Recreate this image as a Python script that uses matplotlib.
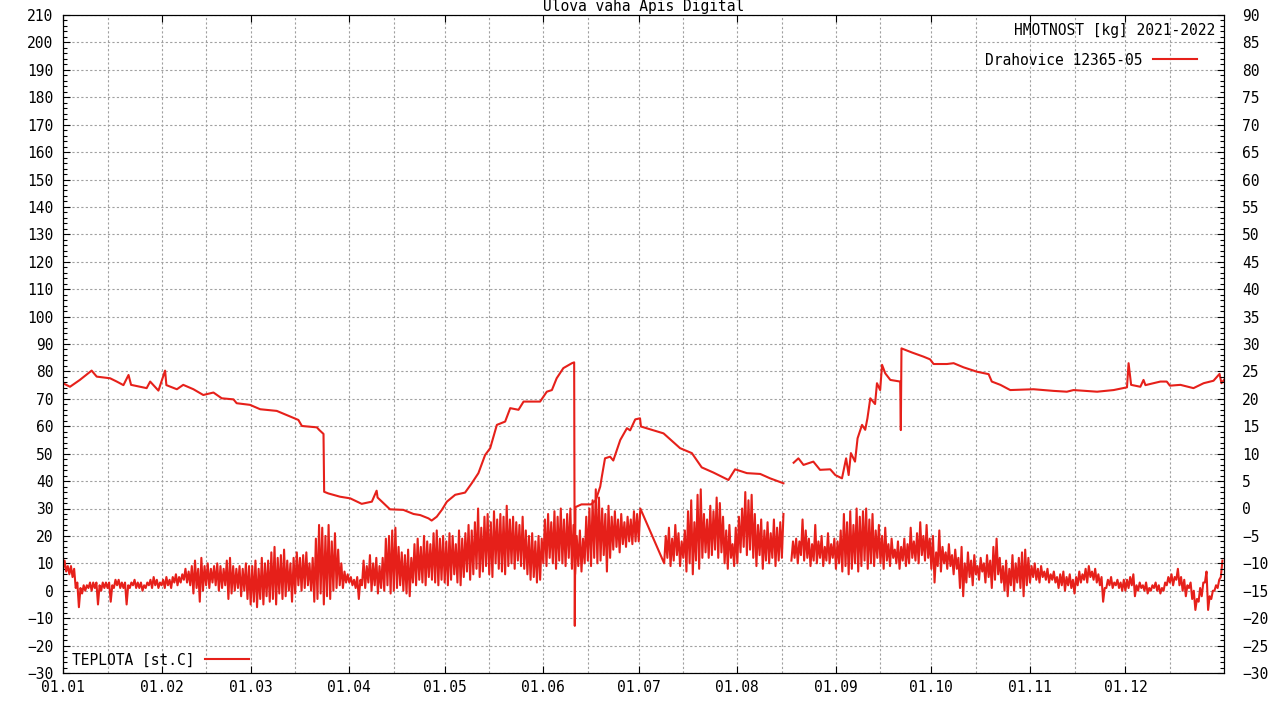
import numpy as np
import matplotlib
matplotlib.use("Agg")
from matplotlib import pyplot as plt

RED = "#e6201a"
GRID = "#a0a0a0"
FONT = "DejaVu Sans Mono"

# month starts (day of year) and labels
month_days = [0, 31, 59, 90, 120, 151, 181, 212, 243, 273, 304, 334]
month_labels = ["01.01", "01.02", "01.03", "01.04", "01.05", "01.06",
                "01.07", "01.08", "01.09", "01.10", "01.11", "01.12"]

# weight [kg]: day of year, value (nan = gap in data)
weight_day = [
    0, 2.2, 5.3, 9, 10.6, 14.8, 16.9, 19, 20.6, 21.4, 26.3, 27.4, 30, 32.1,
    32.5, 35.8, 37.8, 41, 44.1, 47.3, 49.9, 53.6, 54.6, 58.8, 62, 67.2, 70.3,
    74, 75.1, 79.8, 80.6, 81.9, 82.1, 83.4, 87.1, 90.3, 93.9, 97.1, 98.6,
    98.9, 100.7, 102.8, 107, 110.2, 112.3, 114.9, 115.9, 117.5, 119.1, 120.7,
    123.3, 126.4, 128.5, 130.6, 132.7, 134.3, 136.4, 139, 140.6, 143.2, 144.8,
    147.9, 150, 152.1, 153.7, 155.2, 157.3, 160, 160.7, 160.9, 161.1, 163,
    166, 167.5, 168.9, 169.4, 170.4, 172, 173, 175.2, 177.3, 178.3, 179.9,
    181.4, 181.7, 188.8, 194, 197.7, 200.8, 204.5, 209.2, 211.3, 215, 219.2,
    222.3, 226.5, 228, 229.7, 231.2, 232.8, 235.9, 238, 241.2, 242.8, 244.9,
    246.2, 247, 247.7, 249, 249.8, 251.2, 252.2, 252.9, 253.8, 255.3, 255.9,
    256.9, 257.5, 258.5, 260.1, 263.2, 263.4, 263.6, 266.9, 270.5, 272.6,
    273.7, 277.9, 280, 283.1, 287.3, 291, 292, 294.7, 297.8, 305.1, 311.4,
    315.6, 317.7, 325.1, 330.3, 334.5, 335, 335.8, 338.7, 339.7, 340.3, 345,
    347, 348, 351.3, 355.4, 358.6, 361.7, 363.6, 364.2, 365,
]
weight_kg = [
    75.7, 74.4, 76.9, 80.3, 78.1, 77.5, 76.3, 75, 78.7, 75.1, 73.9, 76.3, 73,
    80.3, 75, 73.5, 75.1, 73.5, 71.4, 72.3, 70.2, 69.8, 68.4, 67.8, 66.2,
    65.6, 64.1, 62.3, 60.1, 59.6, 58.6, 57.2, 36.1, 35.5, 34.3, 33.7, 31.7,
    32.5, 36.5, 34, 32, 29.7, 29.5, 28, 27.6, 26.4, 25.6, 27, 29.5, 32.5, 35,
    35.8, 39.2, 42.9, 49.5, 52, 60.5, 61.7, 66.6, 66, 69, 69, 69, 72.6, 73.2,
    77.5, 81.2, 83, 83.3, -12.8, 30.5, 31.5, 31.5, 33, 38, 41.6, 48.3, 48.9,
    47.5, 55, 59.3, 58.5, 62.5, 62.9, 59.9, 57.4, 52, 50.2, 45, 43.1, 40.4,
    44.3, 42.9, 42.6, 41, 39.2, np.nan, 46.7, 48.3, 45.9, 47.1, 44.1, 44.3,
    42.2, 41, 48.3, 42.2, 50.2, 47.1, 55.6, 60.5, 58.7, 62.9, 70.2, 68.1,
    75.7, 73.2, 82.4, 79.3, 76.9, 76.3, 58.6, 88.4, 86.9, 85.4, 84.4, 82.7,
    82.7, 83, 81.5, 79.9, 79, 76.3, 75.1, 73.2, 73.5, 72.9, 72.6, 73.2, 72.6,
    73.2, 74.2, 83, 75.1, 74.4, 76.9, 75, 76.3, 76.3, 74.8, 75.1, 73.9, 75.7,
    76.6, 79.1, 75.7, 76.9,
]

# temperature [st.C]: daily night low / day high, one entry per day of year
# None = no data (line joins over it), nan = data gap (line breaks)
nan = np.nan
temp_low = [
    # jan
    8, 7, 6, 5, 1, -6, -1, 0, 1, 0, 1, -5, 0, 1, 1, -4, 1, 2, 1, 1, -5, 1, 2,
    1, 1, 0, 1, 2, 1, 2, 1,
    # feb
    2, 1, 2, 1, 3, 2, 3, 4, 3, 2, -1, 1, -4, 0, 2, 1, 3, 2, 0, 1, 2, -3, -1,
    0, 1, -2, 0, -3,
    # mar
    -5, -4, -6, -3, -5, -2, -4, -3, -5, -1, -3, -2, 0, -4, -1, 2, 0, 1, 2, 0,
    -4, -3, -1, -5, -2, -3, 0, 1, 2, 1, 3,
    # apr
    3, 2, 1, -3, 2, 1, 3, 0, 2, -1, 1, 0, 2, -1, 0, 1, 2, 0, -1, -2, 3, 2, 4,
    3, 2, 5, 4, 3, 2, 4,
    # may
    3, 2, 4, 6, 3, 2, 5, 7, 4, 6, 8, 5, 7, 9, 6, 5, 10, 8, 7, 6, 9, 10, 8, 11,
    9, 8, 6, 4, 5, 3, 4,
    # jun
    10, 9, 12, 10, 8, 11, 10, 9, 12, 8, 6, 9, 7, 10, 11, 9, 12, 10, 11, 13, 7,
    12, 15, 16, 14, 17, 16, 18, 17, 18,
    # jul
    18, None, None, None, None, None, None, None, 10, 12, 9, 11, 13, 9, 12, 7,
    10, 6, 11, 8, 12, 14, 12, 13, 15, 12, 14, 10, 8, 12, 9,
    # aug
    10, 14, 16, 13, 15, 12, 9, 13, 8, 11, 10, 12, 9, 11, 12, nan, nan, 11, 12,
    10, 13, 11, 12, 9, 11, 10, 12, 9, 11, 10, 12,
    # sep
    8, 10, 7, 9, 6, 8, 10, 7, 9, 11, 8, 10, 9, 12, 10, 8, 11, 9, 12, 10, 8, 11,
    9, 10, 12, 11, 10, 13, 11, 12,
    # oct
    8, 3, 9, 7, 10, 8, 9, 6, 8, 1, -2, 3, 5, 2, 6, 4, 7, 3, 5, 1, 4, 6, 3, 0,
    -2, 2, 0, 3, 1, -2, 2,
    # nov
    3, 5, 4, 3, 5, 4, 3, 4, 3, 1, 2, 0, 2, 1, -1, 2, 3, 4, 3, 5, 4, 3, 2, -4,
    1, 2, 1, 2, 1, 0,
    # dec
    0, 1, 2, -2, 0, 1, 0, -1, 0, 1, 0, -1, 0, 2, 3, 2, 4, 2, 0, -2, 1, -3, -7,
    -4, -2, 3, -7, -3, 0, 1, 5,
]
temp_high = [
    # jan
    11, 9, 9, 8, 3, 1, 2, 2, 3, 3, 3, 2, 3, 3, 3, 2, 4, 4, 3, 3, 2, 3, 4, 3,
    3, 2, 3, 4, 5, 4, 3,
    # feb
    4, 5, 4, 5, 6, 5, 6, 8, 7, 9, 11, 8, 12, 9, 10, 8, 9, 10, 9, 8, 11, 12, 9,
    8, 9, 8, 10, 9,
    # mar
    9, 11, 8, 12, 10, 11, 14, 16, 12, 13, 15, 11, 10, 12, 14, 12, 13, 14, 10,
    12, 19, 24, 23, 20, 24, 18, 21, 15, 10, 7, 6,
    # apr
    5, 4, 5, 4, 11, 9, 13, 10, 12, 9, 12, 19, 20, 22, 23, 16, 14, 13, 15, 12,
    17, 19, 16, 20, 18, 17, 21, 22, 19, 20,
    # may
    18, 21, 20, 17, 22, 19, 21, 24, 22, 25, 30, 23, 27, 28, 25, 29, 26, 28, 27,
    31, 26, 27, 25, 24, 27, 22, 20, 21, 18, 20, 19,
    # jun
    26, 28, 25, 29, 27, 30, 26, 28, 30, 24, 20, 22, 19, 27, 30, 33, 37, 34, 30,
    28, 31, 27, 29, 26, 28, 25, 27, 26, 29, 28,
    # jul
    30, None, None, None, None, None, None, None, 20, 23, 19, 24, 21, 18, 22,
    29, 33, 25, 35, 37, 28, 26, 31, 29, 34, 32, 27, 22, 24, 17, 23,
    # aug
    27, 30, 36, 33, 35, 28, 24, 26, 22, 25, 21, 26, 23, 25, 28, nan, nan, 18,
    19, 18, 26, 22, 19, 17, 24, 18, 20, 16, 21, 17, 19,
    # sep
    18, 22, 28, 25, 29, 24, 30, 27, 29, 30, 26, 28, 22, 24, 20, 23, 17, 19, 15,
    18, 16, 19, 17, 23, 18, 21, 25, 20, 24, 19,
    # oct
    20, 14, 22, 16, 14, 17, 13, 15, 12, 16, 10, 14, 11, 13, 9, 12, 10, 13, 11,
    16, 19, 12, 9, 11, 8, 13, 10, 12, 14, 15, 12,
    # nov
    9, 10, 8, 9, 7, 8, 6, 7, 5, 6, 7, 5, 6, 4, 5, 7, 6, 8, 9, 7, 8, 6, 5, 1, 4,
    5, 3, 4, 3, 4,
    # dec
    4, 5, 6, 2, 3, 2, 3, 1, 2, 3, 2, 1, 3, 5, 6, 5, 8, 5, 4, 2, 3, 0, -3, 1, 3,
    7, -2, 0, 2, 4, 11,
]


def temperature_series(low, high):
    xs, ys = [], []
    for day, (lo, hi) in enumerate(zip(low, high)):
        if lo is None:
            continue
        xs += [day, day + 0.5]
        ys += [lo, hi]
    return np.array(xs, dtype=float), np.array(ys, dtype=float)


def main():
    plt.rcParams["font.family"] = FONT
    plt.rcParams["font.size"] = 10.5

    fig = plt.figure(figsize=(12.8, 7.2), dpi=100)
    ax = fig.add_axes([63 / 1280, 47 / 720, 1161 / 1280, 658 / 720])
    ax2 = ax.twinx()

    temp_x, temp_y = temperature_series(temp_low, temp_high)
    temp_line, = ax.plot(temp_x, temp_y, color=RED, lw=1.5,
                         label="TEPLOTA [st.C]")
    weight_line, = ax.plot(weight_day, weight_kg, color=RED, lw=1.5,
                           label="Drahovice 12365-05")

    ax.set_xlim(0, 365)
    ax.set_ylim(-30, 210)
    ax2.set_ylim(-30, 90)

    ax.set_xticks(month_days)
    ax.set_xticklabels(month_labels)
    ax.set_xticks([d + 14 for d in month_days], minor=True)
    ax.set_yticks(np.arange(-30, 211, 10))
    ax.set_yticks(np.arange(-30, 211, 2), minor=True)
    ax2.set_yticks(np.arange(-30, 91, 5))
    ax2.set_yticks(np.arange(-30, 91, 1), minor=True)

    ax.grid(True, which="both", axis="x", color=GRID, ls=(0, (2, 2)), lw=0.8)
    ax.grid(True, which="major", axis="y", color=GRID, ls=(0, (2, 2)), lw=0.8)

    ax.tick_params(which="both", direction="in", top=True, right=False,
                   width=0.8, labelsize=10.5)
    ax.tick_params(which="major", length=5)
    ax.tick_params(which="minor", length=3)
    ax.tick_params(axis="y", pad=7)
    ax.tick_params(axis="x", pad=5)
    ax.tick_params(axis="x", which="minor", length=0)
    ax2.tick_params(which="both", direction="in", width=0.8, labelsize=10.5,
                    pad=13)
    ax2.tick_params(which="major", length=5)
    ax2.tick_params(which="minor", length=3)

    for spine in list(ax.spines.values()) + list(ax2.spines.values()):
        spine.set_linewidth(0.8)

    ax.set_title("Ulova vaha Apis Digital", fontsize=10.5, pad=3)

    # key: weight (top right, under its heading), temperature (bottom left)
    ax.text(0.9922, 0.977, "HMOTNOST [kg] 2021-2022", transform=ax.transAxes,
            ha="right", va="center", fontsize=10.5)
    key_top = ax.legend([weight_line], [weight_line.get_label()],
                        loc="center right", bbox_to_anchor=(0.9767, 0.9316),
                        markerfirst=False, frameon=False, handlelength=3.0,
                        handletextpad=0.7, borderpad=0, borderaxespad=0,
                        fontsize=10.5)
    ax.add_artist(key_top)
    ax.legend([temp_line], [temp_line.get_label()], loc="center left",
              bbox_to_anchor=(0.0078, 0.0198), markerfirst=False,
              frameon=False, handlelength=3.0, handletextpad=0.7,
              borderpad=0, borderaxespad=0, fontsize=10.5)

    fig.savefig("out.png", dpi=100)


if __name__ == "__main__":
    main()
